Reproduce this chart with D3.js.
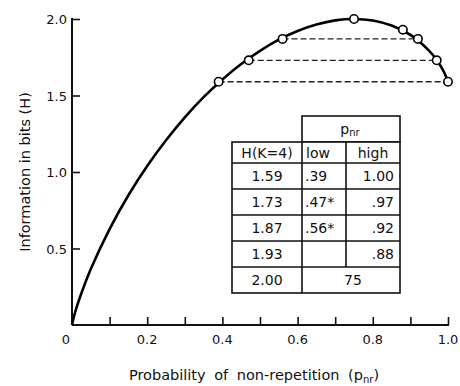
<!DOCTYPE html>
<html><head><meta charset="utf-8">
<script src="https://cdn.jsdelivr.net/npm/d3@7"></script>
<style>body{margin:0;background:#fff}svg{display:block}text{font-family:"DejaVu Sans",sans-serif;fill:#111}</style>
</head><body>
<script>
// curve of H vs p_nr
const curveP = [0,0.005,0.01,0.02,0.05,0.1,0.15,0.2,0.25,0.3,0.35,0.4,0.45,0.5,0.55,0.6,0.65,0.7,0.75,0.8,0.85,0.9,0.95,0.97,0.99,1.0];
const curveH = [0,0.053,0.097,0.173,0.366,0.627,0.848,1.039,1.207,1.357,1.489,1.605,1.706,1.792,1.865,1.922,1.964,1.991,2.0,1.99,1.957,1.896,1.792,1.732,1.65,1.585];
// marked points
const pointP = [0.39,0.47,0.56,0.75,0.88,0.92,0.97,1.00];
const pointH = [1.59,1.73,1.87,2.00,1.93,1.87,1.73,1.59];
// dashed equal-H lines
const dashH = [1.59,1.73,1.87];
const dashLow = [0.39,0.47,0.56];
const dashHigh = [1.00,0.97,0.92];
// table
const tableHeader = ["H(K=4)","low","high"];
const tableH = ["1.59","1.73","1.87","1.93","2.00"];
const tableLow = [".39",".47*",".56*","",""];
const tableHigh = ["1.00",".97",".92",".88","75"];
const xTicks = [0.1,0.2,0.3,0.4,0.5,0.6,0.7,0.8,0.9,1.0];
const xTickLabels = ["","0.2","","0.4","","0.6","","0.8","","1.0"];
const yTicks = [0.5,1.0,1.5,2.0];
const yTickLabels = ["0.5","1.0","1.5","2.0"];

const W=460,H=386;
const svg=d3.select("body").append("svg").attr("width",W).attr("height",H);
const x=d3.scaleLinear().domain([0,1]).range([72,448]);
const y=d3.scaleLinear().domain([0,2]).range([325,19]);

// axes
const ax=svg.append("g").attr("transform","translate(0,325)")
  .call(d3.axisTop(x).tickValues(xTicks).tickSize(8).tickFormat(""));
ax.select(".domain").attr("stroke","#111").attr("stroke-width",2).attr("d","M72,0H449");
ax.selectAll(".tick line").attr("stroke","#111").attr("stroke-width",1.6);
svg.selectAll(".xl").data(xTicks).enter().append("text")
  .attr("x",d=>x(d)).attr("y",344).attr("text-anchor","middle").attr("font-size",13)
  .text((d,i)=>xTickLabels[i]);
svg.append("text").attr("x",66).attr("y",344).attr("text-anchor","middle").attr("font-size",13).text("0");

const ay=svg.append("g").attr("transform","translate(72,0)")
  .call(d3.axisRight(y).tickValues(yTicks).tickSize(8).tickFormat(""));
ay.select(".domain").attr("stroke","#111").attr("stroke-width",2).attr("d","M0,325V18");
ay.selectAll(".tick line").attr("stroke","#111").attr("stroke-width",1.6);
svg.selectAll(".yl").data(yTicks).enter().append("text")
  .attr("x",67).attr("y",d=>y(d)+5).attr("text-anchor","end").attr("font-size",13)
  .text((d,i)=>yTickLabels[i]);

svg.append("text").attr("transform","translate(30,172) rotate(-90)").attr("text-anchor","middle")
  .attr("font-size",14.5).text("Information in bits (H)");
const xl=svg.append("text").attr("x",254).attr("y",380).attr("text-anchor","middle").attr("font-size",14.5)
  .attr("word-spacing",4);
xl.append("tspan").text("Probability of non-repetition (p");
xl.append("tspan").attr("font-size",10).attr("dy",3).text("nr");
xl.append("tspan").attr("dy",-3).text(")");

// dashed lines
svg.selectAll(".dash").data(dashH).enter().append("line")
  .attr("x1",(d,i)=>x(dashLow[i])).attr("x2",(d,i)=>x(dashHigh[i]))
  .attr("y1",d=>y(d)).attr("y2",d=>y(d))
  .attr("stroke","#222").attr("stroke-width",1.3).attr("stroke-dasharray","6,3");

// curve
const line=d3.line().x(d=>x(d[0])).y(d=>y(d[1])).curve(d3.curveCatmullRom);
svg.append("path").datum(curveP.map((p,i)=>[p,curveH[i]])).attr("d",line)
  .attr("fill","none").attr("stroke","#000").attr("stroke-width",2.6);

svg.selectAll(".pt").data(pointP).enter().append("circle")
  .attr("cx",d=>x(d)).attr("cy",(d,i)=>y(pointH[i])).attr("r",4.2)
  .attr("fill","#fff").attr("stroke","#000").attr("stroke-width",1.6);

// table
const colX=[232,302,346,400];
const rowY=[142,163,189,215,241,267,293];
const tg=svg.append("g").attr("stroke","#111").attr("stroke-width",1.6).attr("fill","none");
tg.append("rect").attr("x",302).attr("y",116).attr("width",98).attr("height",26).attr("fill","#fff");
tg.append("rect").attr("x",232).attr("y",142).attr("width",168).attr("height",151).attr("fill","#fff");
rowY.slice(1,6).forEach(r=>tg.append("line").attr("x1",232).attr("x2",400).attr("y1",r).attr("y2",r));
tg.append("line").attr("x1",302).attr("x2",302).attr("y1",142).attr("y2",293);
tg.append("line").attr("x1",346).attr("x2",346).attr("y1",142).attr("y2",267);

const hd=svg.append("text").attr("x",350).attr("y",134).attr("text-anchor","middle").attr("font-size",14);
hd.append("tspan").text("p");
hd.append("tspan").attr("font-size",10).attr("dy",2).text("nr");

svg.append("text").attr("x",267).attr("y",158).attr("text-anchor","middle").attr("font-size",14).text(tableHeader[0]);
svg.append("text").attr("x",306).attr("y",158).attr("font-size",14).text(tableHeader[1]);
svg.append("text").attr("x",373).attr("y",158).attr("text-anchor","middle").attr("font-size",14).text(tableHeader[2]);
tableH.forEach((t,i)=>{
  const cy=(rowY[i+1]+rowY[i+2])/2+5;
  svg.append("text").attr("x",267).attr("y",cy).attr("text-anchor","middle").attr("font-size",14).text(t);
  if(i<4){
    svg.append("text").attr("x",305).attr("y",cy).attr("font-size",14).text(tableLow[i]);
    svg.append("text").attr("x",394).attr("y",cy).attr("text-anchor","end").attr("font-size",14).text(tableHigh[i]);
  } else {
    svg.append("text").attr("x",353).attr("y",cy).attr("text-anchor","middle").attr("font-size",14).text(tableHigh[i]);
  }
});
</script>
</body></html>
